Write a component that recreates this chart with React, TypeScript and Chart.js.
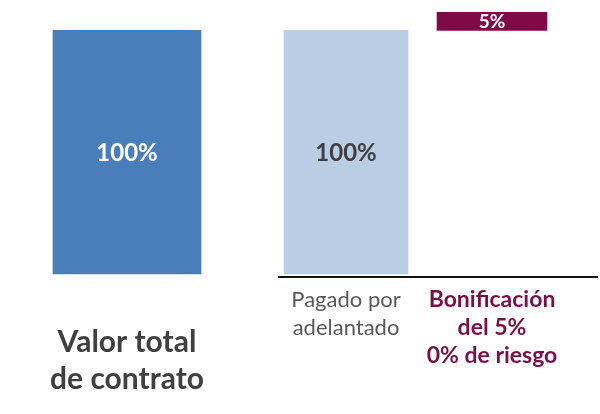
import React, { useEffect, useRef } from "react";
import { Chart, registerables } from "chart.js";

Chart.register(...registerables);

// Categories (empty entries are spacer slots between the groups)
const categories: (string | string[])[] = [
  ["", "Valor total", "de contrato"],
  "",
  "",
  ["Pagado por", "adelantado"],
  "",
  ["Bonificación", "del 5%", "0% de riesgo"],
];

// Series values (percent of contract value)
const totalValue: (number | null)[] = [100, null, null, null, null, null];
const prepaid: (number | null)[] = [null, null, null, 100, null, null];
const bonusStart = 100;
const bonusEnd = 107.4;
const bonus: ([number, number] | null)[] = [null, null, null, null, null, [bonusStart, bonusEnd]];

// Text shown inside the bars
const barLabels = ["100%", "100%", "5%"];

const FONT = "Lato, 'Open Sans', 'DejaVu Sans', sans-serif";
const COLORS = ["#4a7ebb", "#b9cde5", "#800a48"];
const LABEL_COLORS = ["#ffffff", "#404040", "#ffffff"];
const LABEL_SIZES = [24, 24, 19];
const TICK_COLORS = ["#404040", "#404040", "#404040", "#595959", "#404040", "#7b1048"];

const barTextPlugin = {
  id: "barText",
  afterDatasetsDraw(chart: any) {
    const ctx = chart.ctx;
    ctx.save();
    chart.data.datasets.forEach((ds: any, i: number) => {
      const meta = chart.getDatasetMeta(i);
      meta.data.forEach((el: any, j: number) => {
        if (ds.data[j] == null) return;
        const p = el.getProps(["x", "y", "base"], true);
        ctx.fillStyle = LABEL_COLORS[i];
        ctx.font = `bold ${LABEL_SIZES[i]}px ${FONT}`;
        ctx.textAlign = "center";
        ctx.textBaseline = "middle";
        ctx.fillText(barLabels[i], p.x, (p.y + p.base) / 2 + 1);
      });
    });
    ctx.restore();
  },
};

const baselinePlugin = {
  id: "baseline",
  afterDatasetsDraw(chart: any) {
    const meta = chart.getDatasetMeta(1);
    const el = meta.data[3];
    if (!el) return;
    const p = el.getProps(["x", "width"], true);
    const ctx = chart.ctx;
    const y = chart.chartArea.bottom + 3;
    ctx.save();
    ctx.strokeStyle = "#111111";
    ctx.lineWidth = 2;
    ctx.beginPath();
    ctx.moveTo(p.x - p.width / 2 - 6, y);
    ctx.lineTo(chart.width - 2, y);
    ctx.stroke();
    ctx.restore();
  },
};

export default function App() {
  const ref = useRef<HTMLCanvasElement | null>(null);
  useEffect(() => {
    if (!ref.current) return;
    const chart = new Chart(ref.current, {
      type: "bar",
      data: {
        labels: categories as any,
        datasets: [
          { label: "Valor total", data: totalValue as any, backgroundColor: COLORS[0], barThickness: 148, clip: false as any },
          { label: "Pagado", data: prepaid as any, backgroundColor: COLORS[1], barThickness: 124, clip: false as any },
          { label: "Bonificación", data: bonus as any, backgroundColor: COLORS[2], barThickness: 110, clip: false as any },
        ],
      },
      options: {
        animation: false,
        responsive: true,
        maintainAspectRatio: false,
        grouped: false as any,
        layout: { padding: { top: 6, left: 90.5, right: 71.5, bottom: 0 } },
        plugins: {
          legend: { display: false },
          tooltip: { enabled: false },
        },
        scales: {
          x: {
            grid: { display: false, drawTicks: false },
            border: { display: false },
            afterFit: (scale: any) => {
              scale.height = 140;
            },
            ticks: {
              autoSkip: false,
              maxRotation: 0,
              minRotation: 0,
              padding: 12,
              color: TICK_COLORS,
              font: (c: any) => {
                const i = c.index;
                if (i === 0) return { family: FONT, size: 30, weight: "bold", lineHeight: 1.25 };
                if (i === 5) return { family: FONT, size: 23, weight: "bold", lineHeight: 28 / 23 };
                return { family: FONT, size: 22, weight: "normal", lineHeight: 28 / 22 };
              },
            },
          },
          y: {
            display: false,
            min: 0,
            max: 110,
          },
        },
      },
      plugins: [barTextPlugin, baselinePlugin],
    });
    return () => chart.destroy();
  }, []);
  return (
    <div style={{ position: "fixed", left: 0, top: 0, width: 600, height: 414, background: "#ffffff" }}>
      <canvas ref={ref} />
    </div>
  );
}
